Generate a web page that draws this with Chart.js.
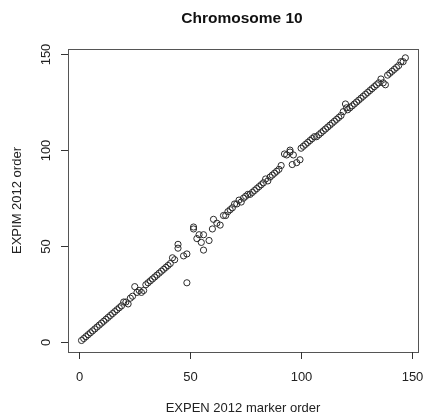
<!DOCTYPE html>
<html>
<head>
<meta charset="utf-8">
<script src="https://cdn.jsdelivr.net/npm/chart.js@4/dist/chart.umd.min.js"></script>
<style>
  html, body { margin: 0; padding: 0; background: #fff; }
  canvas { display: block; }
</style>
</head>
<body>
<canvas id="c" width="427" height="419"></canvas>
<script>
// marker positions: EXPEN 2012 order (x) vs EXPIM 2012 order (y)
const expenOrder = [
  1, 2, 3, 4, 5, 6, 7, 8, 9, 10, 11, 12, 13, 14, 15, 16, 17, 18, 19, 20,
  21, 22, 23, 24, 25, 26, 27, 28, 29, 30, 31, 32, 33, 34, 35, 36, 37, 38, 39, 40,
  41, 42, 43,
  44.5, 44.5, 47, 48.5, 48.5, 51.5, 51.5, 53, 54, 55, 56, 56, 58.5, 60, 60.5, 62, 63.5,
  65, 66, 67, 68, 69, 70, 71, 72, 73, 74, 75, 76, 77, 78, 79, 80, 81, 82, 83, 84,
  85, 86, 87, 88, 89, 90, 91,
  92.5, 93.5, 95, 95, 96.5, 96, 98, 99.5,
  100, 101, 102, 103, 104, 105, 106, 107, 108, 109, 110, 111, 112, 113, 114, 115, 116, 117, 118, 119,
  120, 120.5, 121, 122, 123, 124, 125, 126, 127, 128, 129, 130, 131, 132, 133, 134, 135, 136, 137, 138,
  139, 140, 141, 142, 143, 144, 145, 146, 147
];
const expimOrder = [
  1, 2, 3, 4, 5, 6, 7, 8, 9, 10, 11, 12, 13, 14, 15, 16, 17, 18, 19, 21,
  21, 20, 23, 24, 29, 26, 27, 26, 27, 30, 31, 32, 33, 34, 35, 36, 37, 38, 39, 40,
  41, 44, 43,
  51, 49, 45, 46, 31, 60, 59, 54, 56, 52, 56, 48, 53, 59, 64, 62, 61,
  66, 66, 68, 69, 70, 72, 72, 74, 73, 75, 76, 77, 77, 78, 79, 80, 81, 82, 83, 85,
  84, 86, 87, 88, 89, 90, 92,
  98, 97.5, 100, 99, 97.5, 92.5, 93.5, 95,
  101, 102, 103, 104, 105, 106, 107, 107, 108, 109, 110, 111, 112, 113, 114, 115, 116, 117, 118, 120,
  124, 122, 121, 122, 123, 124, 125, 126, 127, 128, 129, 130, 131, 132, 133, 134, 135, 137, 135, 134,
  139, 140, 141, 142, 143, 144, 146, 146, 148
];
const tickValues = [0, 50, 100, 150];

const points = expenOrder.map((x, i) => ({ x: x, y: expimOrder[i] }));

const rFrame = {
  id: 'rFrame',
  afterDraw(chart) {
    const ctx = chart.ctx;
    const a = chart.chartArea;
    const xs = chart.scales.x, ys = chart.scales.y;
    ctx.save();
    // box
    ctx.strokeStyle = '#555';
    ctx.lineWidth = 1;
    ctx.strokeRect(Math.round(a.left) + 0.5, Math.round(a.top) + 0.5,
      Math.round(a.right - a.left), Math.round(a.bottom - a.top));

    ctx.strokeStyle = '#333';
    ctx.fillStyle = '#222';
    ctx.font = '13px "Liberation Sans", Arial, sans-serif';
    // x ticks
    ctx.textAlign = 'center';
    ctx.textBaseline = 'middle';
    tickValues.forEach(v => {
      const px = Math.round(xs.getPixelForValue(v)) + 0.5;
      ctx.beginPath();
      ctx.moveTo(px, a.bottom);
      ctx.lineTo(px, a.bottom + 7);
      ctx.stroke();
      ctx.fillText(String(v), px, a.bottom + 25);
    });
    // y ticks
    tickValues.forEach(v => {
      const py = Math.round(ys.getPixelForValue(v)) + 0.5;
      ctx.beginPath();
      ctx.moveTo(a.left, py);
      ctx.lineTo(a.left - 7, py);
      ctx.stroke();
      ctx.save();
      ctx.translate(a.left - 22, py);
      ctx.rotate(-Math.PI / 2);
      ctx.fillText(String(v), 0, 0);
      ctx.restore();
    });
    // axis titles
    const cx = (a.left + a.right) / 2, cy = (a.top + a.bottom) / 2;
    ctx.fillText('EXPEN 2012 marker order', cx, a.bottom + 56);
    ctx.save();
    ctx.translate(17, cy);
    ctx.rotate(-Math.PI / 2);
    ctx.fillText('EXPIM 2012 order', 0, 0);
    ctx.restore();
    // main title
    ctx.fillStyle = '#111';
    ctx.font = 'bold 15.5px "Liberation Sans", Arial, sans-serif';
    ctx.fillText('Chromosome 10', cx - 1, 18.5);
    ctx.restore();
  }
};

new Chart(document.getElementById('c'), {
  type: 'scatter',
  data: {
    datasets: [{
      data: points,
      pointStyle: 'circle',
      pointRadius: 3.1,
      pointHoverRadius: 3.1,
      borderWidth: 1,
      borderColor: '#2a2a2a',
      backgroundColor: 'rgba(0,0,0,0)'
    }]
  },
  options: {
    responsive: false,
    animation: false,
    devicePixelRatio: 1,
    layout: { padding: { left: 68, right: 9, top: 49, bottom: 67 } },
    scales: {
      x: { type: 'linear', display: false, min: -5.1, max: 152.7 },
      y: { type: 'linear', display: false, min: -5.0, max: 152.6 }
    },
    plugins: {
      legend: { display: false },
      title: { display: false },
      tooltip: { enabled: false }
    }
  },
  plugins: [rFrame]
});
</script>
</body>
</html>
